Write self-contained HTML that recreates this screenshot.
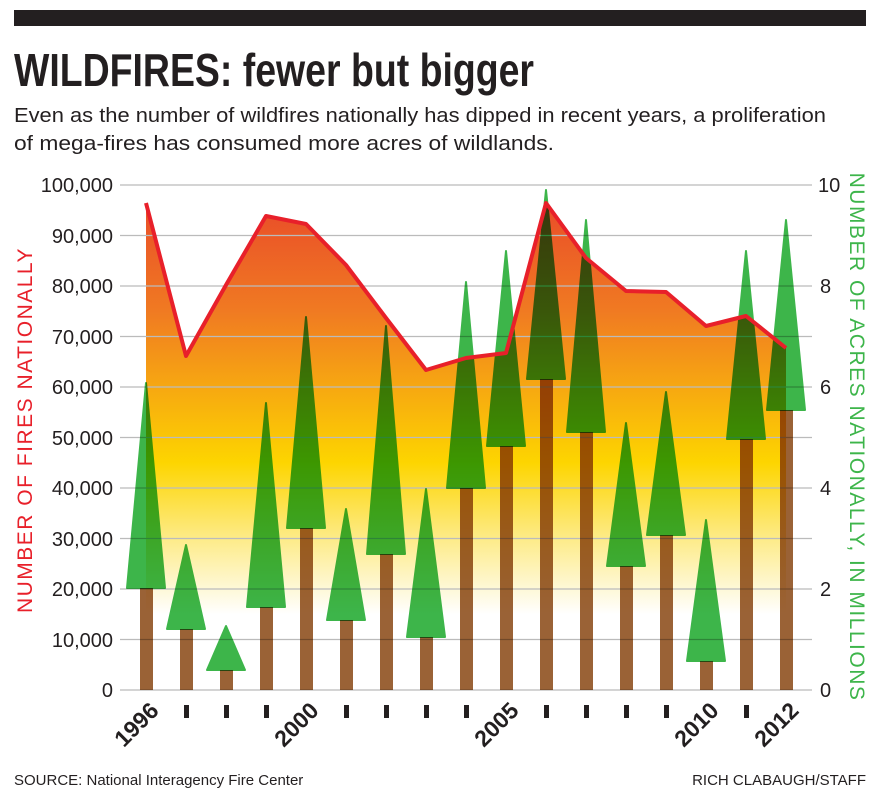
<!DOCTYPE html>
<html><head><meta charset="utf-8"><style>
body{margin:0;background:#fff;width:882px;height:800px;overflow:hidden}
svg{display:block}
</style></head><body>
<svg width="882" height="800" viewBox="0 0 882 800" xmlns="http://www.w3.org/2000/svg" font-family="Liberation Sans, sans-serif">
<defs>
<linearGradient id="fg" x1="0" y1="185" x2="0" y2="690" gradientUnits="userSpaceOnUse">
<stop offset="0" stop-color="#e8452a"/>
<stop offset="0.25" stop-color="#f07a22"/>
<stop offset="0.55" stop-color="#fdd500"/>
<stop offset="0.7" stop-color="#fdeb88"/>
<stop offset="0.85" stop-color="#ffffff"/>
</linearGradient>
</defs>
<rect x="14" y="10" width="852" height="16" fill="#231f20"/>
<text x="14" y="86" font-size="46" font-weight="bold" fill="#231f20" textLength="520" lengthAdjust="spacingAndGlyphs">WILDFIRES: fewer but bigger</text>
<text x="14" y="122" font-size="20" fill="#231f20" textLength="812" lengthAdjust="spacingAndGlyphs">Even as the number of wildfires nationally has dipped in recent years, a proliferation</text>
<text x="14" y="150" font-size="20" fill="#231f20" textLength="540" lengthAdjust="spacingAndGlyphs">of mega-fires has consumed more acres of wildlands.</text>
<path d="M146,203 L186,356 L226,285 L266,216 L306,224 L346,265 L386,318 L426,370 L466,358 L506,353 L546,203 L586,258 L626,291 L666,292 L706,326 L746,316 L786,348 L786,690 L146,690 Z" fill="url(#fg)"/>
<g stroke="#bbb" stroke-width="1.2">
<line x1="120" y1="185" x2="812" y2="185"/><line x1="120" y1="235.5" x2="812" y2="235.5"/><line x1="120" y1="286" x2="812" y2="286"/><line x1="120" y1="336.5" x2="812" y2="336.5"/><line x1="120" y1="387" x2="812" y2="387"/><line x1="120" y1="437.5" x2="812" y2="437.5"/><line x1="120" y1="488" x2="812" y2="488"/><line x1="120" y1="538.5" x2="812" y2="538.5"/><line x1="120" y1="589" x2="812" y2="589"/><line x1="120" y1="639.5" x2="812" y2="639.5"/><line x1="120" y1="690" x2="812" y2="690"/>
</g>
<g fill="#9a6236" style="mix-blend-mode:multiply">
<rect x="140" y="588" width="13" height="102"/><rect x="180" y="629" width="13" height="61"/><rect x="220" y="670" width="13" height="20"/><rect x="260" y="607" width="13" height="83"/><rect x="300" y="528" width="13" height="162"/><rect x="340" y="620" width="13" height="70"/><rect x="380" y="554" width="13" height="136"/><rect x="420" y="637" width="13" height="53"/><rect x="460" y="488" width="13" height="202"/><rect x="500" y="446" width="13" height="244"/><rect x="540" y="379" width="13" height="311"/><rect x="580" y="432" width="13" height="258"/><rect x="620" y="566" width="13" height="124"/><rect x="660" y="535" width="13" height="155"/><rect x="700" y="661" width="13" height="29"/><rect x="740" y="439" width="13" height="251"/><rect x="780" y="410" width="13" height="280"/>
</g>
<g fill="#3db54a" style="mix-blend-mode:multiply" stroke="#3db54a" stroke-linejoin="round" stroke-width="2">
<polygon points="146,383 127,588 165,588"/><polygon points="186,545 167,629 205,629"/><polygon points="226,626 207,670 245,670"/><polygon points="266,403 247,607 285,607"/><polygon points="306,317 287,528 325,528"/><polygon points="346,509 327,620 365,620"/><polygon points="386,326 367,554 405,554"/><polygon points="426,489 407,637 445,637"/><polygon points="466,282 447,488 485,488"/><polygon points="506,251 487,446 525,446"/><polygon points="546,190 527,379 565,379"/><polygon points="586,220 567,432 605,432"/><polygon points="626,423 607,566 645,566"/><polygon points="666,392 647,535 685,535"/><polygon points="706,520 687,661 725,661"/><polygon points="746,251 727,439 765,439"/><polygon points="786,220 767,410 805,410"/>
</g>
<polyline points="146,203 186,356 226,285 266,216 306,224 346,265 386,318 426,370 466,358 506,353 546,203 586,258 626,291 666,292 706,326 746,316 786,348" fill="none" stroke="#e8202a" stroke-width="4" stroke-linejoin="round"/>
<g font-size="20" fill="#231f20" text-anchor="end">
<text x="113" y="192">100,000</text><text x="113" y="243">90,000</text><text x="113" y="293">80,000</text><text x="113" y="344">70,000</text><text x="113" y="394">60,000</text><text x="113" y="445">50,000</text><text x="113" y="495">40,000</text><text x="113" y="546">30,000</text><text x="113" y="596">20,000</text><text x="113" y="647">10,000</text><text x="113" y="697">0</text>
</g>
<g font-size="20" fill="#231f20" text-anchor="start">
<text x="818" y="192">10</text><text x="820" y="293">8</text><text x="820" y="394">6</text><text x="820" y="495">4</text><text x="820" y="596">2</text><text x="820" y="697">0</text>
</g>
<text transform="translate(32,430) rotate(-90)" font-size="21" fill="#e8202a" text-anchor="middle" letter-spacing="1.5">NUMBER OF FIRES NATIONALLY</text>
<text transform="translate(850,437) rotate(90)" font-size="21" fill="#3db54a" text-anchor="middle" letter-spacing="1.5">NUMBER OF ACRES NATIONALLY, IN MILLIONS</text>
<g font-size="23" font-weight="bold" fill="#231f20" text-anchor="end">
<text transform="translate(160,712) rotate(-45)">1996</text>
<text transform="translate(320,712) rotate(-45)">2000</text>
<text transform="translate(520,712) rotate(-45)">2005</text>
<text transform="translate(720,712) rotate(-45)">2010</text>
<text transform="translate(800,712) rotate(-45)">2012</text>
</g>
<g fill="#231f20">
<rect x="184" y="705" width="5" height="13"/><rect x="224" y="705" width="5" height="13"/><rect x="264" y="705" width="5" height="13"/><rect x="344" y="705" width="5" height="13"/><rect x="384" y="705" width="5" height="13"/><rect x="424" y="705" width="5" height="13"/><rect x="464" y="705" width="5" height="13"/><rect x="544" y="705" width="5" height="13"/><rect x="584" y="705" width="5" height="13"/><rect x="624" y="705" width="5" height="13"/><rect x="664" y="705" width="5" height="13"/><rect x="744" y="705" width="5" height="13"/>
</g>
<text x="14" y="785" font-size="15" fill="#231f20">SOURCE: National Interagency Fire Center</text>
<text x="866" y="785" font-size="15" fill="#231f20" text-anchor="end">RICH CLABAUGH/STAFF</text>
</svg>
</body></html>
